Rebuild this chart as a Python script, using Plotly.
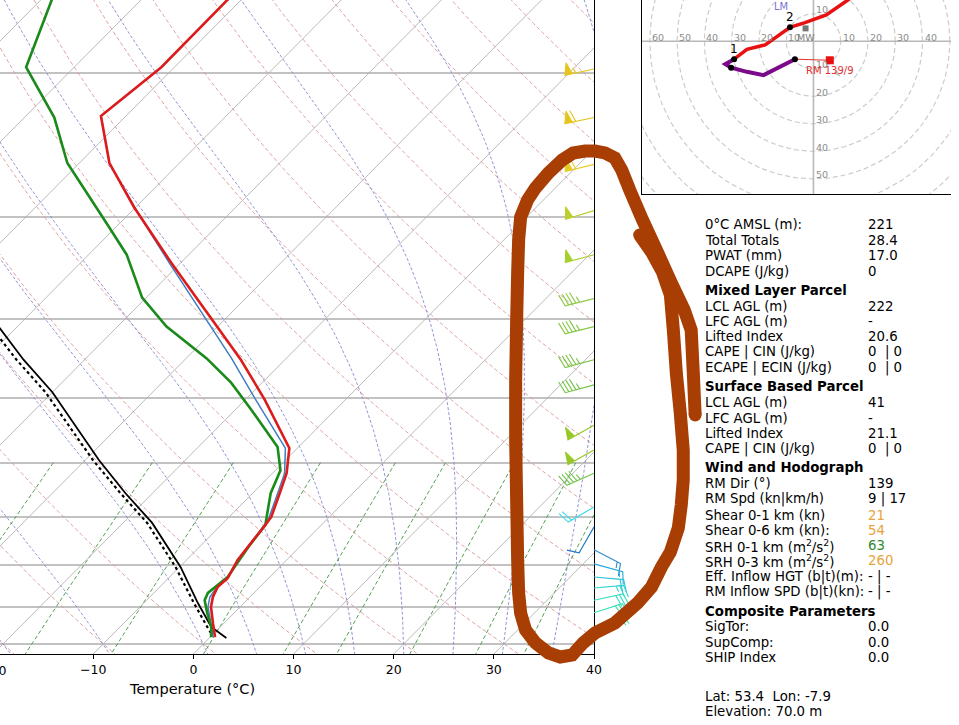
import numpy as np
import plotly.graph_objects as go

FONT = "DejaVu Sans"

# ---------------- sounding (hPa / degC)
temp_p = [150, 163, 197, 226, 258, 292, 342, 449, 503, 576, 618, 654, 699, 715, 750, 789, 830, 852, 876, 901, 943, 981]
temp_c = [-61.4, -61.4, -61.3, -62.5, -57.0, -50.2, -40.9, -24.4, -18.0, -10.8, -8.6, -7.3, -5.8, -5.6,
          -5.3, -4.9, -4.1, -4.2, -3.7, -2.9, -1.1, 0.5]

dewp_p = [150, 163, 197, 227, 258, 309, 334, 377, 409, 447, 479, 517, 574, 613, 654, 691, 715, 761,
          828, 866, 884, 916, 953, 981]
dewp_c = [-80.7, -78.9, -74.8, -67.0, -61.2, -50.7, -46.2, -40.4, -35.1, -28.0, -23.1, -18.4, -12.1,
          -9.5, -8.2, -6.6, -5.6, -5.1, -4.2, -4.6, -4.2, -2.7, -0.9, 0.1]

wetb_p = [150, 163, 197, 226, 258, 297, 342, 447, 503, 576, 618, 654, 699, 715, 750, 789, 830, 852, 876, 901, 943, 981]
wetb_c = [-61.4, -61.4, -61.3, -62.5, -57.0, -49.2, -41.1, -25.5, -18.9, -11.2, -8.8, -7.5, -6.0, -5.6,
          -5.3, -4.9, -4.15, -4.3, -4.0, -3.2, -1.3, 0.3]

sb_parcel_p = [983, 953, 891, 805, 711, 654, 596, 492, 449, 411, 350]
sb_parcel_c = [1.7, -0.9, -4.6, -9.9, -17.1, -22.7, -28.6, -40.0, -46.1, -51.6, -61.5]
ml_parcel_p = [970, 953, 891, 805, 711, 654, 596, 492, 449, 411, 350]
ml_parcel_c = [-0.3, -1.3, -5.0, -10.4, -17.6, -23.2, -29.2, -40.7, -46.8, -52.4, -62.4]

# wind barbs on the right edge (hPa, direction from, kn)
barb_p = [198, 227, 259, 295, 334, 378, 409, 449, 482, 540, 579, 618, 680, 719, 767,
          798, 828, 854, 884, 916, 953]
barb_dir = [258, 258, 256, 253, 255, 256, 256, 255, 255, 241, 241, 246, 240, 210, 117,
            105, 95, 85, 78, 72, 65]
barb_spd = [55, 60, 60, 50, 50, 45, 45, 45, 45, 50, 50, 45, 20, 10, 15,
            15, 20, 25, 30, 30, 25]
barb_col = ["#e6c41a", "#e6c41a", "#e8cc26", "#bccf2a", "#a6cf2e", "#8ccb44", "#84c846", "#7cc448",
            "#78c44a", "#98c828", "#98c828", "#74c44c", "#3cdce6", "#1f78c8", "#2a8ad0",
            "#20a8dc", "#28c4d8", "#30d4d0", "#36dcc4", "#3ee0b6", "#46e4a8"]

# background lines
isotherm_c = list(range(-120, 50, 10))
isobar_p = [200, 300, 400, 500, 600, 700, 800, 900, 1000]
dry_theta0_c = list(range(-40, 211, 10))
moist_t0_c = [-40, -30, -20, -10, 0, 5, 10, 15, 20, 25, 30, 35, 40, 45, 50]
mixing_w = [0.0004, 0.001, 0.002, 0.004, 0.007, 0.01, 0.016, 0.024, 0.032]

# hodograph (kn)
hodo_red_u = [-29.1, -24.4, -17.7, -8.6, -3.1, 4.7, 12.6, 22.0, 30.0]
hodo_red_v = [-6.5, -2.9, -1.3, 5.1, 6.8, 9.6, 15.0, 22.0, 28.0]
hodo_low_u = [-6.8, -14.7, -18.3, -24.4, -30.2, -32.3, -29.1]
hodo_low_v = [-6.5, -10.4, -12.3, -11.1, -9.6, -8.3, -6.5]
hodo_dot_u = [-6.8, -30.2, -29.1, -8.6]
hodo_dot_v = [-6.5, -9.6, -6.5, 5.1]
rm_uv = (6.0, -6.9)
mw_uv = (-2.9, 4.7)
hodo_rings = list(range(10, 100, 10))

# stats table
tbl_label = ["0°C AMSL (m):", "Total Totals", "PWAT (mm)", "DCAPE (J/kg)", "Mixed Layer Parcel",
             "LCL AGL (m)", "LFC AGL (m)", "Lifted Index", "CAPE | CIN (J/kg)", "ECAPE | ECIN (J/kg)",
             "Surface Based Parcel", "LCL AGL (m)", "LFC AGL (m)", "Lifted Index", "CAPE | CIN (J/kg)",
             "Wind and Hodograph", "RM Dir (°)", "RM Spd (kn|km/h)", "Shear 0-1 km (kn)",
             "Shear 0-6 km (kn):", "SRH 0-1 km (m<sup>2</sup>/s<sup>2</sup>)",
             "SRH 0-3 km (m<sup>2</sup>/s<sup>2</sup>)", "Eff. Inflow HGT (b|t)(m):",
             "RM Inflow SPD (b|t)(kn):", "Composite Parameters", "SigTor:", "SupComp:", "SHIP Index",
             "Lat: 53.4\u00a0\u00a0Lon: -7.9", "Elevation: 70.0 m"]
tbl_value = ["221", "28.4", "17.0", "0", "", "222", "-", "20.6", "0\u00a0\u00a0| 0", "0\u00a0\u00a0| 0",
             "", "41", "-", "21.1", "0\u00a0\u00a0| 0", "", "139", "9 | 17", "21", "54", "63", "260",
             "- | -", "- | -", "", "0.0", "0.0", "0.0", "", ""]
tbl_vcolor = {"21": "#e6a43c", "54": "#e6a43c", "63": "#2e8b2e", "260": "#e6a43c"}
tbl_y = [224, 240, 255.7, 271, 290, 306, 321.3, 336.7, 352.3, 367.7, 386.7, 402.7, 418.3, 433.3,
         448.7, 467.3, 484, 499.3, 515, 530, 545.7, 560.7, 576.7, 592.3, 611.7, 626.7, 642.3,
         657.7, 696.7, 711.7]
tbl_header = ["Mixed Layer Parcel", "Surface Based Parcel", "Wind and Hodograph", "Composite Parameters"]

# freehand marker loop drawn over the picture (pixels)
loop_x = [645, 657, 668, 676, 679, 682, 686, 689, 689, 687, 684, 676, 667, 657, 643, 620, 600, 588,
          577, 565, 553, 540, 530, 525, 523, 522, 521, 520, 520, 521, 522, 523, 525, 532, 540, 553,
          567, 578, 590, 600, 610, 620, 627, 635, 648, 662, 677, 690, 697, 699, 701]
loop_y = [235, 252, 272, 295, 330, 373, 413, 450, 480, 505, 528, 552, 567, 587, 603, 623, 633, 643,
          655, 657, 653, 643, 630, 613, 593, 560, 500, 440, 380, 320, 273, 240, 217, 200, 188, 173,
          160, 153, 151, 151, 153, 158, 170, 190, 220, 250, 283, 310, 330, 370, 415]

# ---------------- geometry
FIG_W, FIG_H = 959, 725
SKEW_W, SKEW_H = 599, 654
P_BOT, P_TOP = 1028.6, 163.0
T_MIN, T_MAX = -19.31, 40.0
px_deg = SKEW_W / (T_MAX - T_MIN)
px_ln = SKEW_H / np.log(P_BOT / P_TOP)
skew = px_ln / px_deg  # 45 degree isotherms

HODO_X0, HODO_Y1 = 647, 194
HODO_CX, HODO_CY, HODO_PX = 820.3, 41.3, 2.75
TXT = 13.3


def sx(t, p):
    return np.asarray(t, dtype=float) + skew * np.log(P_BOT / np.asarray(p, dtype=float))


RD, CP, LV, EPS = 287.04, 1005.7, 2.501e6, 0.622


def dtdp(p, tk):
    es = 6.112 * np.exp(17.67 * (tk - 273.15) / (tk - 29.65))
    rs = EPS * es / (p - es)
    return (RD * tk + LV * rs) / (CP + LV * LV * rs * EPS / (RD * tk * tk)) / p


def moist_lapse(t0k, plist):
    out = [t0k]
    t = t0k
    for a, b in zip(plist[:-1], plist[1:]):
        h = b - a
        k1 = dtdp(a, t)
        k2 = dtdp(a + h / 2, t + h / 2 * k1)
        k3 = dtdp(a + h / 2, t + h / 2 * k2)
        k4 = dtdp(b, t + h * k3)
        t = t + h / 6 * (k1 + 2 * k2 + 2 * k3 + k4)
        out.append(t)
    return np.array(out)


def barb_polygon(spd, bearing, L=30.0):
    full_h, full_w, spacing = 0.4 * L, 0.25 * L, 0.125 * L
    s = 5 * int(round(spd / 5.0))
    nflag, rem = divmod(s, 50)
    nbarb, rem = divmod(rem, 10)
    pts = [(0.0, 0.0)]
    off = L
    for _ in range(nflag):
        if off != L:
            off += spacing / 2
        pts += [(0, off), (full_h, off - full_w / 2), (0, off - full_w)]
        off -= full_w + spacing
    for _ in range(nbarb):
        pts += [(0, off), (full_h, off + full_w / 2), (0, off)]
        off -= spacing
    if rem >= 5:
        if off == L:
            pts.append((0, off))
            off -= 1.5 * spacing
        pts += [(0, off), (full_h / 2, off + full_w / 4), (0, off)]
    pts.append((0.0, 0.0))
    b = np.radians(bearing)
    dx = [x * np.cos(b) + y * np.sin(b) for x, y in pts]
    dy = [-x * np.sin(b) + y * np.cos(b) for x, y in pts]
    return np.array(dx), np.array(dy)


fig = go.Figure()


def add_lines(xs, ys, color, width, dash="solid", **kw):
    fig.add_trace(go.Scatter(x=xs, y=ys, mode="lines", line=dict(color=color, width=width, dash=dash),
                             hoverinfo="skip", showlegend=False, **kw))


# dry adiabats
p_line = np.geomspace(1060, 100, 120)
xs, ys = [], []
for th in dry_theta0_c:
    t = (th + 273.15) * (p_line / 1000.0) ** 0.2857 - 273.15
    xs += list(sx(t, p_line)) + [None]
    ys += list(p_line) + [None]
add_lines(xs, ys, "#dc9898", 0.9, "4px,2.5px")

# moist adiabats
p_up = np.linspace(1000, 100, 181)
p_dn = np.linspace(1000, 1060, 13)
t0k = np.array(moist_t0_c, dtype=float) + 273.15
t_up = moist_lapse(t0k, p_up) - 273.15
t_dn = moist_lapse(t0k, p_dn) - 273.15
xs, ys = [], []
for i in range(len(moist_t0_c)):
    pp = np.concatenate([p_dn[::-1], p_up[1:]])
    tt = np.concatenate([t_dn[::-1, i], t_up[1:, i]])
    xs += list(sx(tt, pp)) + [None]
    ys += list(pp) + [None]
add_lines(xs, ys, "#8888d0", 0.9, "3px,2px")

# mixing ratio lines
p_mix = np.geomspace(600, 1060, 40)
xs, ys = [], []
for w in mixing_w:
    e = w * p_mix / (EPS + w)
    lg = np.log(e / 6.112)
    td = 243.5 * lg / (17.67 - lg)
    xs += list(sx(td, p_mix)) + [None]
    ys += list(p_mix) + [None]
add_lines(xs, ys, "#3f963f", 0.9, "4px,2.5px")

# isotherms
xs, ys = [], []
for t in isotherm_c:
    xs += [float(sx(t, 1060)), float(sx(t, 100)), None]
    ys += [1060, 100, None]
add_lines(xs, ys, "#b2b2b2", 0.9)

# profiles
add_lines(sx(ml_parcel_c, ml_parcel_p), ml_parcel_p, "black", 2.2, "dot")
add_lines(sx(sb_parcel_c, sb_parcel_p), sb_parcel_p, "black", 1.8)
add_lines(sx(wetb_c, wetb_p), wetb_p, "#3f7fbf", 1.5)
add_lines(sx(dewp_c, dewp_p), dewp_p, "#1a8a1a", 2.6)
add_lines(sx(temp_c, temp_p), temp_p, "#dc1c1c", 2.6)

# wind barbs (overlay axes spanning the page, same scale as the skew-T)
for pa, d, s, c in zip(barb_p, barb_dir, barb_spd, barb_col):
    dx, dy = barb_polygon(s, d)
    bx = T_MAX + dx / px_deg
    by = pa * np.exp(-dy / px_ln)
    fig.add_trace(go.Scatter(x=bx, y=by, xaxis="x3", yaxis="y3", mode="lines", fill="toself",
                             fillcolor=c, line=dict(color=c, width=1.1), hoverinfo="skip",
                             showlegend=False))

# ---------------- hodograph
u_lo = (HODO_X0 - HODO_CX) / HODO_PX
u_hi = (FIG_W - HODO_CX) / HODO_PX
v_hi = HODO_CY / HODO_PX
v_lo = -(HODO_Y1 - HODO_CY) / HODO_PX
ang = np.linspace(0, 2 * np.pi, 241)
xs, ys = [], []
for r in hodo_rings:
    xs += list(r * np.cos(ang)) + [None]
    ys += list(r * np.sin(ang)) + [None]
add_lines(xs, ys, "#cccccc", 1.2, "5px,3px", xaxis="x2", yaxis="y2")
add_lines([u_lo - 5, u_hi + 5, None, 0, 0], [0, 0, None, v_lo - 5, v_hi + 5], "#b8b8b8", 1.6,
          xaxis="x2", yaxis="y2")
add_lines([hodo_low_u[0], rm_uv[0]], [hodo_low_v[0], rm_uv[1]], "#e03030", 1.0, xaxis="x2", yaxis="y2")
add_lines(hodo_red_u, hodo_red_v, "#e81010", 3.5, xaxis="x2", yaxis="y2")
add_lines(hodo_low_u, hodo_low_v, "#7a0a8a", 4, xaxis="x2", yaxis="y2")
fig.add_trace(go.Scatter(x=hodo_dot_u, y=hodo_dot_v, xaxis="x2", yaxis="y2", mode="markers",
                         marker=dict(color="black", size=6), hoverinfo="skip", showlegend=False))
fig.add_trace(go.Scatter(x=[rm_uv[0]], y=[rm_uv[1]], xaxis="x2", yaxis="y2", mode="markers",
                         marker=dict(color="#e81010", size=8, symbol="square"), hoverinfo="skip",
                         showlegend=False))
fig.add_trace(go.Scatter(x=[mw_uv[0]], y=[mw_uv[1]], xaxis="x2", yaxis="y2", mode="markers",
                         marker=dict(color="#777777", size=6, symbol="square"), hoverinfo="skip",
                         showlegend=False))
fig.add_trace(go.Scatter(x=[10.0], y=[-13.0], xaxis="x2", yaxis="y2", mode="markers",
                         marker=dict(color="#c4c4c4", size=8, symbol="arrow", angle=135),
                         hoverinfo="skip", showlegend=False))

ann = []
gray = dict(family=FONT, size=9.5, color="#8c8c8c")
for r in [10, 20, 30, 40, 50, 60]:
    ann.append(dict(x=-r, y=0, xref="x2", yref="y2", text=str(r), showarrow=False, xanchor="left",
                    yanchor="middle", yshift=4, font=gray))
for r in [10, 20, 30, 40]:
    ann.append(dict(x=r, y=0, xref="x2", yref="y2", text=str(r), showarrow=False, xanchor="left",
                    yanchor="middle", yshift=4, font=gray))
for r in [10, -10, -20, -30, -40, -50]:
    ann.append(dict(x=0, y=r, xref="x2", yref="y2", text=str(abs(r)), showarrow=False,
                    xanchor="left", xshift=1, yanchor="middle", yshift=4, font=gray))
ann.append(dict(x=rm_uv[0], y=rm_uv[1], xref="x2", yref="y2", text="RM 139/9", showarrow=False,
                yshift=-10.5, font=dict(family=FONT, size=10, color="#e03030")))
ann.append(dict(x=mw_uv[0], y=mw_uv[1], xref="x2", yref="y2", text="MW", showarrow=False,
                yshift=-9, font=dict(family=FONT, size=9.5, color="#808080")))
ann.append(dict(x=-11.8, y=12.8, xref="x2", yref="y2", text="LM", showarrow=False,
                font=dict(family=FONT, size=10, color="#7a74d0")))
for lab, i in (("1", 2), ("2", 3)):
    ann.append(dict(x=hodo_dot_u[i], y=hodo_dot_v[i], xref="x2", yref="y2", text=lab,
                    showarrow=False, yshift=10.5, font=dict(family=FONT, size=12, color="black")))

# ---------------- texts round the skew-T
ann.append(dict(x=(-20 - T_MIN) * px_deg / FIG_W, y=1 - (SKEW_H + 16) / FIG_H, xref="paper",
                yref="paper", text="\u221220", showarrow=False, xanchor="center", yanchor="middle",
                font=dict(family=FONT, size=12.5, color="black")))
ann.append(dict(x=194 / FIG_W, y=1 - 689 / FIG_H, xref="paper", yref="paper", text="Temperature (°C)",
                showarrow=False, xanchor="center", yanchor="middle",
                font=dict(family=FONT, size=14.5, color="black")))

for lab, val, yy in zip(tbl_label, tbl_value, tbl_y):
    bold = lab in tbl_header
    ann.append(dict(x=709 / FIG_W, y=1 - yy / FIG_H, xref="paper", yref="paper",
                    text=f"<b>{lab}</b>" if bold else lab, showarrow=False, xanchor="left",
                    yanchor="middle", font=dict(family=FONT, size=TXT, color="black")))
    if val:
        ann.append(dict(x=873 / FIG_W, y=1 - yy / FIG_H, xref="paper", yref="paper", text=val,
                        showarrow=False, xanchor="left", yanchor="middle",
                        font=dict(family=FONT, size=TXT, color=tbl_vcolor.get(val, "black"))))

# ---------------- freehand loop
BROWN = "rgb(168,62,4)"
path = "M " + " L ".join(f"{x / FIG_W:.5f},{1 - y / FIG_H:.5f}" for x, y in zip(loop_x, loop_y))
shapes = [dict(type="path", path=path, xref="paper", yref="paper", layer="above",
               line=dict(color=BROWN, width=13))]
for i in (0, -1):
    cx, cy = loop_x[i], loop_y[i]
    shapes.append(dict(type="circle", xref="paper", yref="paper", layer="above",
                       x0=(cx - 6.5) / FIG_W, x1=(cx + 6.5) / FIG_W,
                       y0=1 - (cy + 6.5) / FIG_H, y1=1 - (cy - 6.5) / FIG_H,
                       fillcolor=BROWN, line=dict(width=0)))

tick_vals = [-10, 0, 10, 20, 30, 40]
tick_text = ["\u221210", "0", "10", "20", "30", "40"]

fig.update_layout(
    width=FIG_W, height=FIG_H, autosize=False,
    margin=dict(l=0, r=0, t=0, b=0),
    paper_bgcolor="white", plot_bgcolor="rgba(0,0,0,0)",
    showlegend=False,
    xaxis=dict(domain=[0, SKEW_W / FIG_W], range=[T_MIN, T_MAX], tickvals=tick_vals,
               ticktext=tick_text, ticks="outside", ticklen=4, tickcolor="black", showline=True,
               linecolor="black", linewidth=1, showgrid=False, zeroline=False, fixedrange=True,
               tickfont=dict(family=FONT, size=12.5, color="black")),
    yaxis=dict(domain=[1 - SKEW_H / FIG_H, 1], type="log",
               range=[np.log10(P_BOT), np.log10(P_TOP)], tickvals=isobar_p,
               showticklabels=False, ticks="", showgrid=True, gridcolor="#c2c2c2",
               gridwidth=1.6, showline=True, side="right", linecolor="black", linewidth=1,
               zeroline=False, fixedrange=True),
    xaxis2=dict(domain=[HODO_X0 / FIG_W, 1], range=[u_lo, u_hi], anchor="y2", showline=True,
                linecolor="black", linewidth=1, showgrid=False, zeroline=False,
                showticklabels=False, ticks="", fixedrange=True),
    yaxis2=dict(domain=[1 - HODO_Y1 / FIG_H, 1], range=[v_lo, v_hi], anchor="x2", showline=True,
                linecolor="black", linewidth=1, showgrid=False, zeroline=False,
                showticklabels=False, ticks="", fixedrange=True),
    xaxis3=dict(domain=[0, 1], range=[T_MIN, T_MIN + FIG_W / px_deg], anchor="y3", visible=False,
                fixedrange=True),
    yaxis3=dict(domain=[0, 1], type="log", anchor="x3", visible=False, fixedrange=True,
                range=[np.log10(P_BOT * np.exp((FIG_H - SKEW_H) / px_ln)), np.log10(P_TOP)]),
    annotations=ann,
    shapes=shapes,
)

# no default body margin / scrollbars; let the figure fill exactly the visible window
page_fix = ("document.body.style.margin='0';document.body.style.overflow='hidden';"
            "document.documentElement.style.overflow='hidden';"
            "var gd=document.getElementById('{plot_id}');"
            "var w=window.innerWidth||%d, h=window.innerHeight||%d;"
            "gd.style.width=w+'px';gd.style.height=h+'px';"
            "Plotly.relayout(gd, {width: w, height: h});" % (FIG_W, FIG_H))
fig.write_html("out.html", config={"displayModeBar": False, "responsive": False},
               post_script=page_fix)
